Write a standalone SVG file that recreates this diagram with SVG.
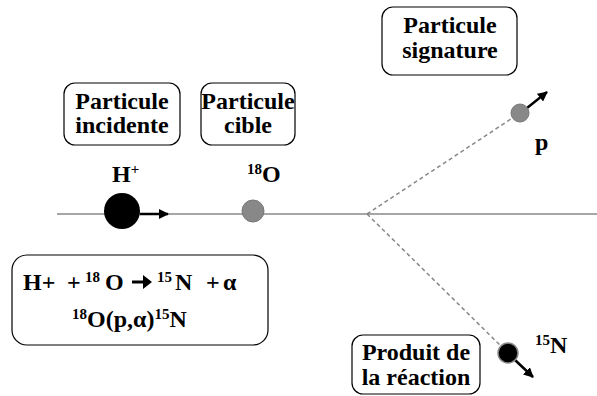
<svg xmlns="http://www.w3.org/2000/svg" width="597" height="396" viewBox="0 0 597 396">
<defs>
<marker id="ah" viewBox="0 0 10 10" refX="9" refY="5" markerWidth="4" markerHeight="4" orient="auto" markerUnits="strokeWidth">
<path d="M0,0 L10,5 L0,10 z" fill="#000"/>
</marker>
</defs>
<rect width="597" height="396" fill="#fff"/>
<g id="connectors" fill="none">
<line stroke="#888" stroke-width="1.5" x1="57" y1="214" x2="597" y2="214"/>
<line stroke="#888" stroke-width="1.5" stroke-dasharray="4,3" x1="367" y1="214" x2="520" y2="113"/>
<line stroke="#888" stroke-width="1.5" stroke-dasharray="4,3" x1="367" y1="214" x2="508" y2="353"/>
<line stroke="#000" stroke-width="2.5" marker-end="url(#ah)" x1="140" y1="214" x2="168" y2="214"/>
<line stroke="#000" stroke-width="2.5" marker-end="url(#ah)" x1="527" y1="108" x2="547" y2="92"/>
<line stroke="#000" stroke-width="2.5" marker-end="url(#ah)" x1="515" y1="360" x2="533" y2="377"/>
</g>
<g id="proton">
<circle cx="122" cy="211" r="18" fill="#000"/>
<text font-family="Liberation Serif" font-weight="bold" font-size="24" x="112" y="182">H<tspan font-size="15" dy="-8">+</tspan></text>
</g>
<g id="oxygen">
<circle cx="253" cy="211" r="11" fill="#888" stroke="#777" stroke-width="1"/>
<text font-family="Liberation Serif" font-weight="bold" font-size="24" x="247" y="182"><tspan font-size="15" dy="-8">18</tspan><tspan dy="8">O</tspan></text>
</g>
<g id="p-particle">
<circle cx="520" cy="113" r="9" fill="#888" stroke="#777" stroke-width="1"/>
<text font-family="Liberation Serif" font-weight="bold" font-size="24" x="535" y="150">p</text>
</g>
<g id="n15">
<circle cx="508" cy="353" r="10" fill="#000" stroke="#888" stroke-width="1.5"/>
<text font-family="Liberation Serif" font-weight="bold" font-size="24" x="535" y="353"><tspan font-size="15" dy="-8">15</tspan><tspan dy="8">N</tspan></text>
</g>
<g id="box-incidente">
<rect fill="#fff" stroke="#000" stroke-width="1.2" x="64" y="83" width="116" height="62" rx="11"/>
<text font-family="Liberation Serif" font-weight="bold" font-size="24" text-anchor="middle" x="122" y="109">Particule</text>
<text font-family="Liberation Serif" font-weight="bold" font-size="24" text-anchor="middle" x="122" y="133">incidente</text>
</g>
<g id="box-cible">
<rect fill="#fff" stroke="#000" stroke-width="1.2" x="201" y="83" width="94" height="62" rx="11"/>
<text font-family="Liberation Serif" font-weight="bold" font-size="24" text-anchor="middle" x="248" y="109">Particule</text>
<text font-family="Liberation Serif" font-weight="bold" font-size="24" text-anchor="middle" x="248" y="133">cible</text>
</g>
<g id="box-signature">
<rect fill="#fff" stroke="#000" stroke-width="1.2" x="382" y="7" width="135" height="68" rx="11"/>
<text font-family="Liberation Serif" font-weight="bold" font-size="24" text-anchor="middle" x="450" y="33">Particule</text>
<text font-family="Liberation Serif" font-weight="bold" font-size="24" text-anchor="middle" x="450" y="58">signature</text>
</g>
<g id="box-produit">
<rect fill="#fff" stroke="#000" stroke-width="1.2" x="352" y="335" width="128" height="59" rx="11"/>
<text font-family="Liberation Serif" font-weight="bold" font-size="24" text-anchor="middle" x="416" y="360">Produit de</text>
<text font-family="Liberation Serif" font-weight="bold" font-size="24" text-anchor="middle" x="416" y="385">la réaction</text>
</g>
<g id="box-reaction">
<rect fill="#fff" stroke="#000" stroke-width="1.2" x="12" y="255" width="256" height="90" rx="15"/>
<text font-family="Liberation Serif" font-weight="bold" font-size="24" y="290"><tspan x="23">H+</tspan><tspan x="67">+</tspan><tspan x="85" font-size="15" dy="-8">18</tspan><tspan x="105" dy="8">O</tspan><tspan x="157" font-size="15" dy="-8">15</tspan><tspan x="175" dy="8">N</tspan><tspan x="206">+</tspan><tspan x="223">α</tspan></text>
<path d="M132,280.5 L143,280.5 L143,275 L152,282 L143,289 L143,283.5 L132,283.5 z" fill="#000"/>
<text font-family="Liberation Serif" font-weight="bold" font-size="24" y="327"><tspan x="72" font-size="15" dy="-8">18</tspan><tspan dy="8">O(p,α)</tspan><tspan font-size="15" dy="-8">15</tspan><tspan dy="8">N</tspan></text>
</g>
</svg>
